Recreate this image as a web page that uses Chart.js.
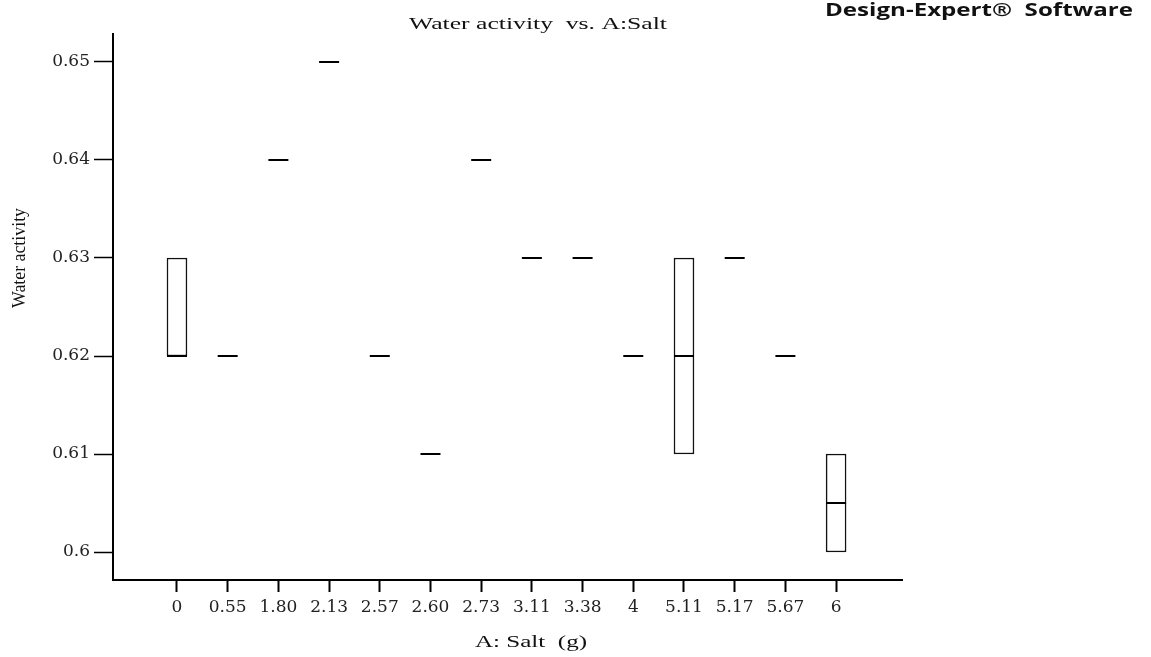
<!DOCTYPE html>
<html>
<head>
<meta charset="utf-8">
<script src="https://cdn.jsdelivr.net/npm/chart.js@4/dist/chart.umd.min.js"></script>
<style>
  html, body { margin: 0; padding: 0; background: #fff; }
  canvas { display: block; }
</style>
</head>
<body>
<canvas id="chart" width="1151" height="657"></canvas>
<script>
const saltLevels = ["0", "0.55", "1.80", "2.13", "2.57", "2.60", "2.73", "3.11", "3.38", "4", "5.11", "5.17", "5.67", "6"];
// box ranges (null where only a single run exists)
const boxLow  = [0.62, null, null, null, null, null, null, null, null, null, 0.61, null, null, 0.60];
const boxHigh = [0.63, null, null, null, null, null, null, null, null, null, 0.63, null, null, 0.61];
// median / single observed value
const medians = [0.62, 0.62, 0.64, 0.65, 0.62, 0.61, 0.64, 0.63, 0.63, 0.62, 0.62, 0.63, 0.62, 0.605];
const yTicks = [0.60, 0.61, 0.62, 0.63, 0.64, 0.65];

const serif = "'DejaVu Serif', serif";

const boxData = [];
boxLow.forEach((lo, i) => {
  if (lo !== null) boxData.push({ x: i, y: [lo, boxHigh[i]] });
});
const medianData = medians.map((v, i) => ({ x: i, y: v }));

// draw text squeezed/stretched to a given width
function fitText(ctx, text, x, y, font, width, rotate) {
  ctx.save();
  ctx.font = font;
  ctx.fillStyle = "#111";
  ctx.textAlign = "center";
  ctx.textBaseline = "middle";
  const sx = width / ctx.measureText(text).width;
  ctx.translate(x, y);
  if (rotate) ctx.rotate(-Math.PI / 2);
  ctx.scale(sx, 1);
  ctx.fillText(text, 0, 0);
  ctx.restore();
}

const labelsPlugin = {
  id: "labels",
  afterDraw(chart) {
    const ctx = chart.ctx;
    fitText(ctx, "Water activity  vs. A:Salt", 538, 25, "16px 'Liberation Serif'", 258);
    fitText(ctx, "Design-Expert\u00AE  Software", 979, 11, "bold 17px 'Open Sans'", 308);
    fitText(ctx, "A: Salt  (g)", 531, 643, "17px 'Liberation Serif'", 112);
    fitText(ctx, "Water activity", 20, 258, "18px 'Liberation Serif'", 100, true);
  }
};

const chart = new Chart(document.getElementById("chart"), {
  data: {
    datasets: [
      {
        type: "bar",
        order: 2,
        data: boxData,
        backgroundColor: "#fff",
        borderColor: "#111",
        borderWidth: 1.5,
        borderSkipped: false,
        barThickness: 20
      },
      {
        type: "scatter",
        order: 1,
        data: medianData,
        pointStyle: "line",
        radius: 10,
        hoverRadius: 10,
        borderColor: "#000",
        borderWidth: 2,
        showLine: false
      }
    ]
  },
  options: {
    responsive: false,
    animation: false,
    events: [],
    layout: { padding: { top: 34, right: 249, left: 0, bottom: 0 } },
    plugins: {
      legend: { display: false },
      title: { display: false },
      tooltip: { enabled: false }
    },
    scales: {
      x: {
        type: "linear",
        offset: false,
        min: -1.262,
        max: 14.3,
        afterBuildTicks: (scale) => {
          scale.ticks = saltLevels.map((_, i) => ({ value: i }));
        },
        afterFit: (scale) => { scale.height = 77; },
        border: { display: true, color: "#000", width: 2 },
        grid: { display: true, offset: false, drawOnChartArea: false, drawTicks: true, tickLength: 12, tickColor: "#000", tickWidth: 2 },
        ticks: {
          autoSkip: false,
          maxRotation: 0,
          minRotation: 0,
          padding: 5,
          color: "#222",
          font: { family: serif, size: 17 },
          callback: (value) => saltLevels[value]
        }
      },
      y: {
        type: "linear",
        min: 0.597143,
        max: 0.652857,
        afterBuildTicks: (scale) => {
          scale.ticks = yTicks.map((v) => ({ value: v }));
        },
        afterFit: (scale) => { scale.width = 113; },
        border: { display: true, color: "#000", width: 2 },
        grid: { display: true, drawOnChartArea: false, drawTicks: true, tickLength: 19, tickColor: "#000", tickWidth: 1.5 },
        ticks: {
          padding: 4,
          color: "#222",
          font: { family: serif, size: 17 },
          callback: (value) => String(parseFloat(value.toFixed(3)))
        }
      }
    }
  },
  plugins: [labelsPlugin]
});
</script>
</body>
</html>
